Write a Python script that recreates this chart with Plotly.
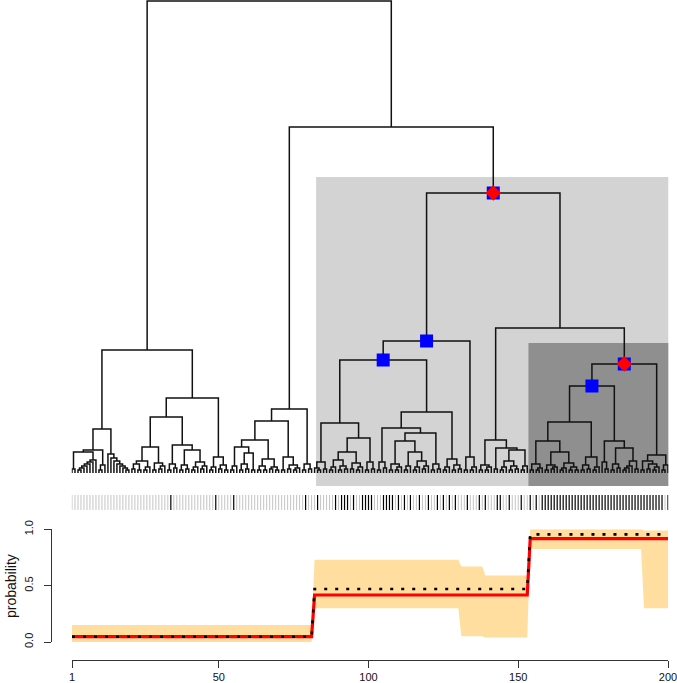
import re
import plotly.graph_objects as go

# ---------------- dendrogram: sub-clusters (Newick-like: '.' = leaf, number after ')' = merge height) ----
A1a = "(((.,.)4,((((((.,.)3,.)5,.)7,.)9,.)11,.)13)21,((.,.)3,.)8)23"
A1b = "(.,(.,(.,(.,(.,(.,(.,.)3)5)7)9)12)15)19"
A2aL1 = "(((.,.)4,(.,.)3)9,((.,.)3,.)6)12"
A2aL2 = "((.,.)3,((.,.)4,.)7)10"
A2aR1 = "((.,.)3,(.,.)5)9"
A2aR2 = "(((.,.)3,(.,.)4)8,(((.,.)3,.)6,((.,.)4,.)7)11)23"
A2b = "(((.,.)3,.)6,((.,.)4,(.,.)3)8)16"
C1a1 = "(((.,.)3,.)7,(((.,.)3,(.,.)4)9,(.,.)3)20)26"
C1a2 = "(((.,.)3,(.,.)3)7,((.,.)4,(.,.)3)6)14"
C1b = "((.,.)3,((.,.)4,((.,.)3,.)5)8)16"
C2 = "((.,.)3,(.,.)4)9"
E1a1 = "((.,(.,.)3)5,(.,.)4)11"
E1a2L = "(((.,.)3,.)6,((.,.)3,(.,.)4)7)13"
E1a2R = "((.,.)4,((.,.)3,.)6)10"
E1a2b = "((.,.)3,(.,.)4)11"
E1b1a = "((.,.)3,(.,.)5)11"
E1b2a = "((.,.)3,((.,.)3,.)6)9"
E1b2bL = "((.,.)3,.)7"
E1b2bR = "(((.,.)3,.)6,((.,.)4,.)7)12"
E1b2c = "((.,.)3,(.,.)4)9"
E1b3 = "(((.,.)3,.)6,((.,.)3,(.,.)4)8)14"
E2 = "((.,.)3,((.,.)3,.)6)16"
F1a = "((.,.)3,((.,.)3,.)6)8"
F1bL = "(.,.)4"
F1bRL = "(((.,.)3,.)6,((.,.)3,(.,.)4)7)12"
F1bRR = "((.,.)3,.)7"
G1a = "((.,.)3,((.,.)3,.)5)9"
G1bL = "((.,.)3,((.,.)4,.)6)8"
G1bR = "(((.,.)3,.)5,((.,.)3,(.,.)3)6)10"
G2 = "(((.,.)3,(.,.)4)8,((.,.)3,.)6)16"
F2a2L = "(.,(.,.)4)11"
F2a2RL = "((.,.)3,(.,.)5)9"
F2a2RR = "((((.,.)3,.)5,.)7,(.,.)4)12"
F2bL = "((.,.)3,((.,.)4,((.,.)3,.)6)9)12"
F2bR = "((.,.)3,.)8"

# merge heights of the upper (visible) joins
H = dict(A1=44, A2aL=26, A2aR=28, A2a=56, A2=75, A=123,
         C1a=33, C1=52, C=64,
         E1a2a=21, E1a2=35, E1a=50, E1b2b=21, E1b2=32, E1b2x=40, E1b1=45, E1b=61, E1=113, E=132,
         F1bR=23, F1b=25, F1=33,
         G1b=21, G1=32, F2a1=51, F2a2R=25, F2a2=32, F2a=87, F2b=18, F2=109, F=145, D=280, B=346, ROOT=472)

def j(a, b, h):
    return "(" + a + "," + b + ")" + str(h)

A = j(j(A1a, A1b, H["A1"]),
      j(j(j(A2aL1, A2aL2, H["A2aL"]), j(A2aR1, A2aR2, H["A2aR"]), H["A2a"]), A2b, H["A2"]), H["A"])
C = j(j(j(C1a1, C1a2, H["C1a"]), C1b, H["C1"]), C2, H["C"])
E1a = j(E1a1, j(j(E1a2L, E1a2R, H["E1a2a"]), E1a2b, H["E1a2"]), H["E1a"])
E1b = j(j(E1b1a, j(j(E1b2a, j(E1b2bL, E1b2bR, H["E1b2b"]), H["E1b2"]), E1b2c, H["E1b2x"]), H["E1b1"]),
        E1b3, H["E1b"])
E = j(j(E1a, E1b, H["E1"]), E2, H["E"])
F1 = j(F1a, j(F1bL, j(F1bRL, F1bRR, H["F1bR"]), H["F1b"]), H["F1"])
F2a = j(j(j(G1a, j(G1bL, G1bR, H["G1b"]), H["G1"]), G2, H["F2a1"]),
        j(F2a2L, j(F2a2RL, F2a2RR, H["F2a2R"]), H["F2a2"]), H["F2a"])
F2 = j(F2a, j(F2bL, F2bR, H["F2b"]), H["F2"])
TREE = j(A, j(C, j(E, j(F1, F2, H["F"]), H["D"]), H["B"]), H["ROOT"])

# highlighted clusters (first leaf, last leaf)
blue_nodes = [(82, 200), (82, 136), (82, 131), (154, 200), (154, 190)]
red_nodes = [(82, 200), (154, 200)]
# shaded boxes: x0, x1, top height, bottom height
box_x0 = [82.5, 153.4]
box_x1 = [200.3, 200.3]
box_top = [296, 130]
box_bottom = [-13, -13]
box_color = ["#D3D3D3", "#8F8F8F"]

# rug (leaves coded 1 = black)
black_leaves = [34, 49, 55, 79,
                83, 89, 91, 92, 93, 95, 98, 99, 100, 101, 105, 106, 107, 108, 110, 112, 114, 117,
                120, 123, 125, 127, 129, 133, 137, 139, 143, 144, 147, 151,
                154, 156] + list(range(158, 199)) + [200]
n_leaves = 200

# ---------------- probability panel ----------------
band_start = [1, 82, 131, 139, 154, 192]
band_end = [81, 130, 138, 153, 191, 200]
band_low = [0.0, 0.30, 0.05, 0.04, 0.825, 0.30]
band_high = [0.15, 0.73, 0.67, 0.59, 1.0, 0.99]
fit_start = [1, 82, 154]
fit_end = [81, 153, 200]
fit_red = [0.047, 0.417, 0.917]
fit_dot = [0.047, 0.47, 0.955]

# ---------------- parse tree ----------------
nodes = []
state = {"pos": 0, "leaf": 0}
S = TREE.replace(" ", "")

def parse():
    p = state["pos"]
    if S[p] == ".":
        state["pos"] += 1
        state["leaf"] += 1
        k = state["leaf"]
        return {"x": float(k), "h": 0.0, "lo": k, "hi": k}
    state["pos"] += 1
    a = parse()
    state["pos"] += 1  # ','
    b = parse()
    state["pos"] += 1  # ')'
    m = re.match(r"[0-9.]+", S[state["pos"]:])
    state["pos"] += len(m.group())
    n = {"x": (a["x"] + b["x"]) / 2, "h": float(m.group()), "lo": a["lo"], "hi": b["hi"], "kids": (a, b)}
    nodes.append(n)
    return n

root = parse()

tx, ty = [], []
for n in nodes:
    a, b = n["kids"]
    tx += [a["x"], a["x"], b["x"], b["x"], None]
    ty += [a["h"], n["h"], n["h"], b["h"], None]

def node_at(rng):
    for n in nodes:
        if (n["lo"], n["hi"]) == rng:
            return n
    return None

fig = go.Figure()

# rug
rug_top, rug_bot = -22, -37
gx, gy, bx, by = [], [], [], []
for i in range(1, n_leaves + 1):
    if i in black_leaves:
        bx += [i, i, None]; by += [rug_top, rug_bot, None]
    else:
        gx += [i, i, None]; gy += [rug_top, rug_bot, None]
fig.add_trace(go.Scatter(x=gx, y=gy, mode="lines", line=dict(color="#C4C4C4", width=1), hoverinfo="skip"))
fig.add_trace(go.Scatter(x=bx, y=by, mode="lines", line=dict(color="#000000", width=1.2), hoverinfo="skip"))

# tree
fig.add_trace(go.Scatter(x=tx, y=ty, mode="lines", line=dict(color="#111111", width=1.5), hoverinfo="skip"))

bn = [node_at(r) for r in blue_nodes]
fig.add_trace(go.Scatter(x=[n["x"] for n in bn], y=[n["h"] for n in bn], mode="markers",
                         marker=dict(symbol="square", size=13, color="#0000FF", line=dict(width=0)),
                         hoverinfo="skip"))
rn = [node_at(r) for r in red_nodes]
fig.add_trace(go.Scatter(x=[n["x"] for n in rn], y=[n["h"] for n in rn], mode="markers",
                         marker=dict(symbol="diamond", size=12, color="#FF0000", line=dict(width=0)),
                         hoverinfo="skip"))

for x0, x1, t, b, c in zip(box_x0, box_x1, box_top, box_bottom, box_color):
    fig.add_shape(type="rect", xref="x", yref="y", x0=x0, x1=x1, y0=b, y1=t,
                  fillcolor=c, line=dict(width=0), layer="below")

# band polygon
ux, uy, lx, ly = [], [], [], []
for s, e, lo, hi in zip(band_start, band_end, band_low, band_high):
    ux += [s, e]; uy += [hi, hi]
    lx += [s, e]; ly += [lo, lo]
fig.add_trace(go.Scatter(x=ux + lx[::-1], y=uy + ly[::-1], mode="lines", fill="toself",
                         fillcolor="#FFDEA0", line=dict(width=0, color="#FFDEA0"),
                         xaxis="x", yaxis="y2", hoverinfo="skip"))

rx, ry, dx, dy = [], [], [], []
for s, e, r, d in zip(fit_start, fit_end, fit_red, fit_dot):
    rx += [s, e]; ry += [r, r]
    dx += [s, e]; dy += [d, d]
fig.add_trace(go.Scatter(x=rx, y=ry, mode="lines", line=dict(color="#FF0000", width=3.2),
                         xaxis="x", yaxis="y2", hoverinfo="skip"))
fig.add_trace(go.Scatter(x=dx, y=dy, mode="lines", line=dict(color="#000000", width=2.6, dash="3px,8px"),
                         xaxis="x", yaxis="y2", hoverinfo="skip"))

W, Hh = 677, 683
ppl = 596 / 199
fig.update_layout(
    width=W, height=Hh, margin=dict(l=0, r=0, t=0, b=0, autoexpand=False),
    paper_bgcolor="white", plot_bgcolor="rgba(0,0,0,0)", showlegend=False,
    font=dict(family="Liberation Sans, Arial, sans-serif", color="#111111"),
    xaxis=dict(domain=[(72 - 0.1 * ppl) / W, (668 + 0.1 * ppl) / W], range=[0.9, 200.1],
               anchor="free", position=(Hh - 659.5) / Hh, automargin=False,
               showline=True, linecolor="#333333", linewidth=1, ticks="outside", ticklen=7,
               tickcolor="#333333", tickvals=[1, 50, 100, 150, 200],
               tickfont=dict(size=11, color="#111111"), ticklabeloverflow="allow",
               showgrid=False, zeroline=False),
    yaxis=dict(domain=[(Hh - 512) / Hh, 1], range=[-39, 473], visible=False, automargin=False),
    yaxis2=dict(domain=[(Hh - 642) / Hh, (Hh - 529.3) / Hh], range=[0, 1], anchor="free",
                position=51 / W, automargin=False, showline=True, linecolor="#333333", linewidth=1,
                ticks="outside", ticklen=7, tickcolor="#333333", tickvals=[0, 0.5, 1],
                ticktext=["0.0", "0.5", "1.0"], tickangle=-90, tickfont=dict(size=11, color="#111111"),
                ticklabelstandoff=7, ticklabeloverflow="allow", showgrid=False, zeroline=False),
    annotations=[dict(text="probability", xref="paper", yref="paper", x=11 / W, y=(Hh - 586) / Hh,
                      showarrow=False, textangle=-90, font=dict(size=14, color="#111111"),
                      xanchor="center", yanchor="middle")],
)

fig.write_html("out.html", config={"displayModeBar": False},
               post_script="document.body.style.margin='0';")
